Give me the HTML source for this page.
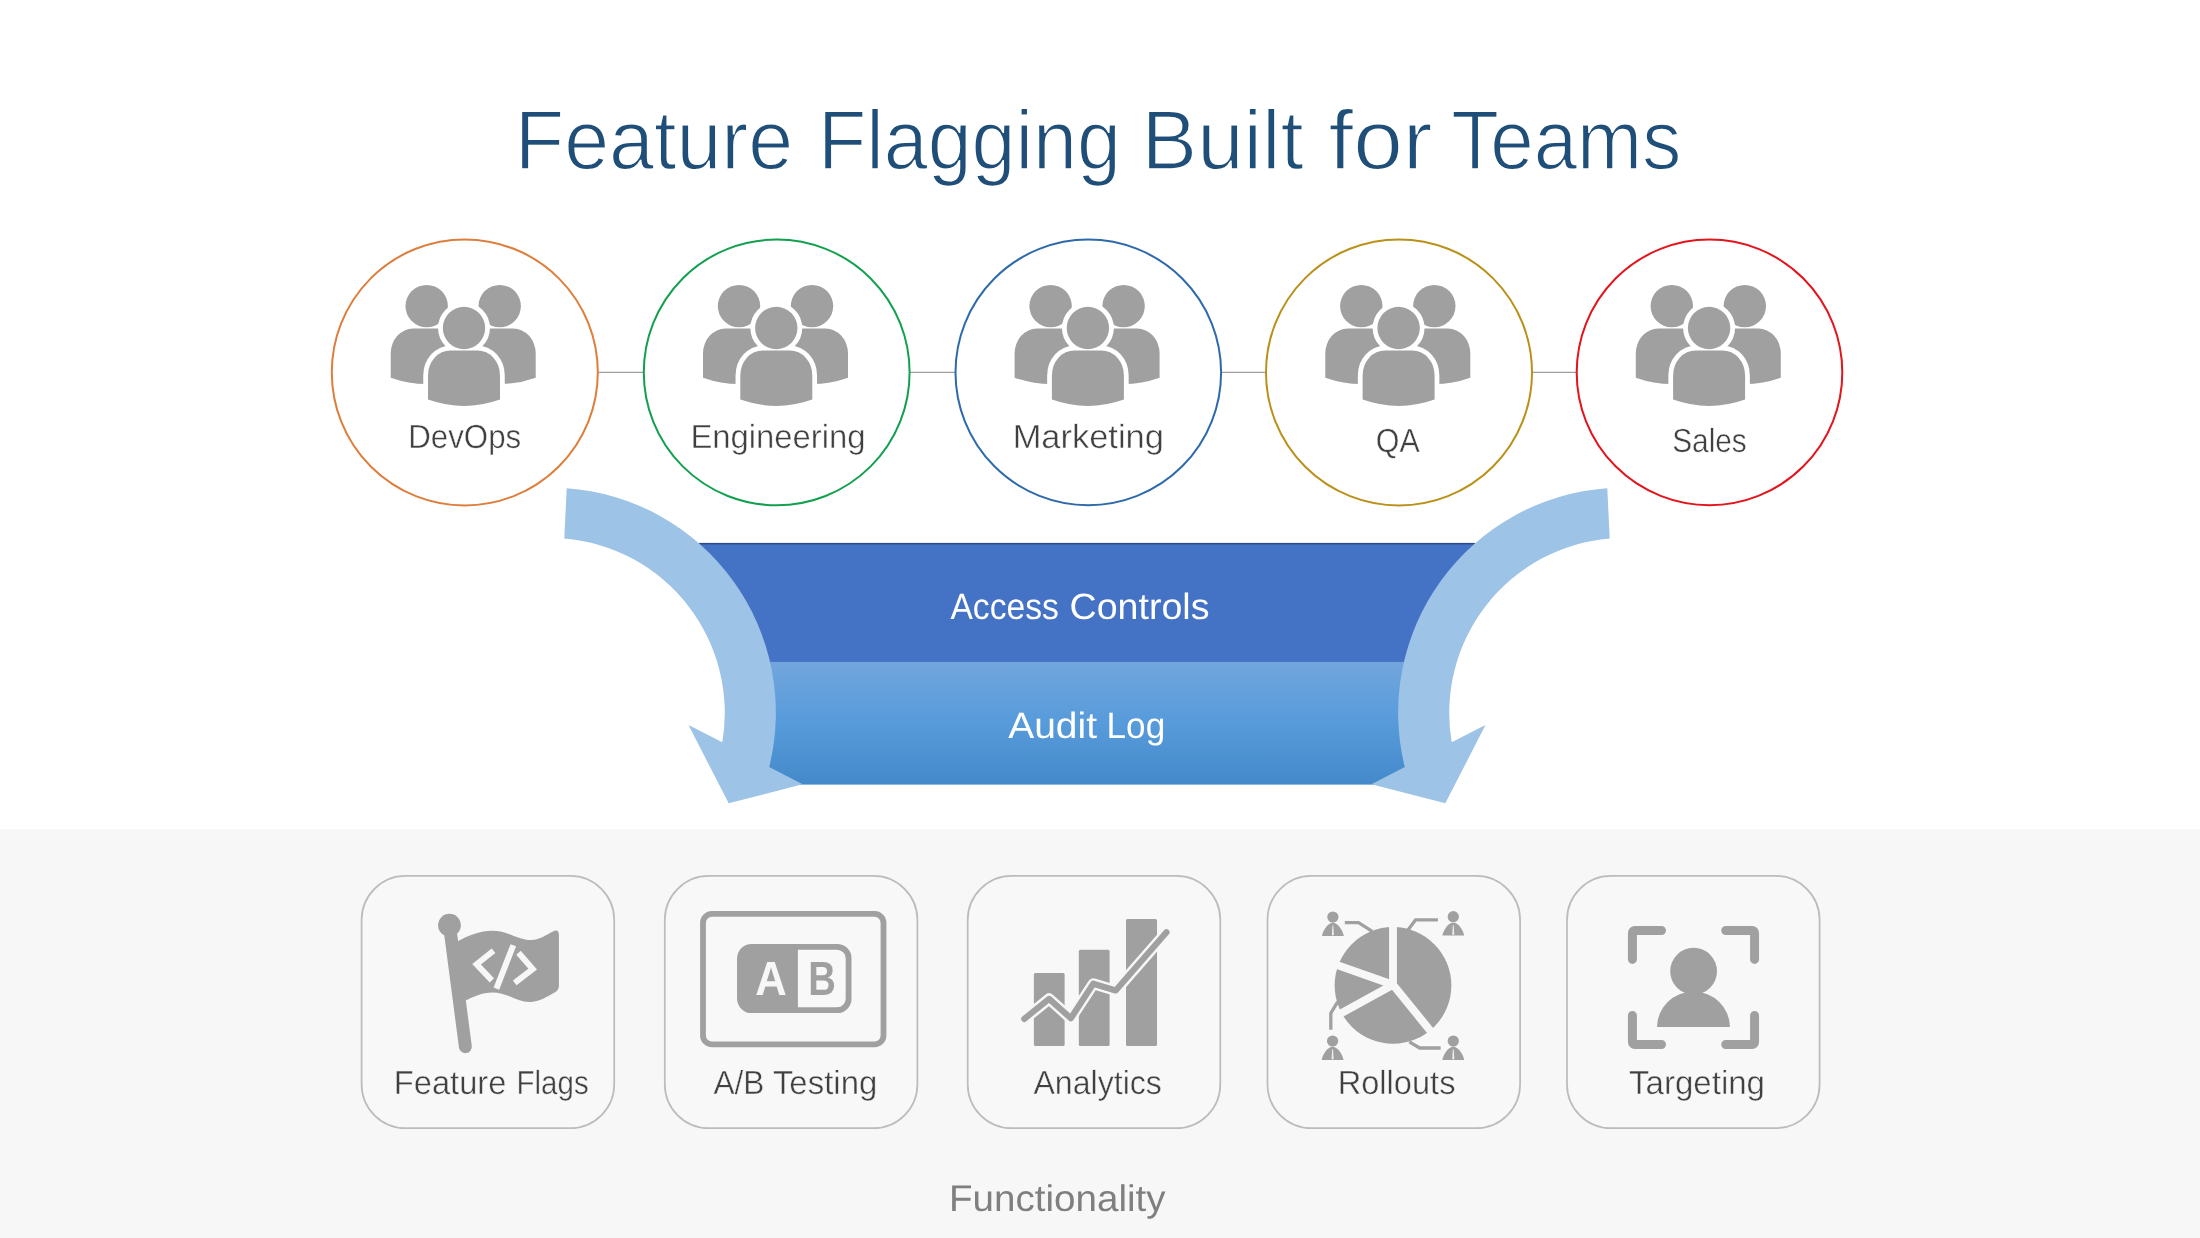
<!DOCTYPE html>
<html lang="en">
<head>
<meta charset="utf-8">
<title>Feature Flagging Built for Teams</title>
<style>
html,body{margin:0;padding:0;background:#fff;}
body{width:2200px;height:1238px;overflow:hidden;}
svg{display:block;will-change:transform;}
text{font-family:"Liberation Sans",sans-serif;text-rendering:geometricPrecision;}
.lbl{font-size:33.4px;fill:#404040;text-anchor:middle;stroke:#fff;stroke-width:.45px;}
.tl{font-size:33.3px;fill:#404040;text-anchor:middle;stroke:#f7f7f7;stroke-width:.45px;}
.wt{font-size:36.6px;fill:#fff;text-anchor:middle;}
</style>
</head>
<body>
<svg width="2200" height="1238" viewBox="0 0 2200 1238">
<defs>
<linearGradient id="ga" x1="0" y1="0" x2="0" y2="1">
<stop offset="0" stop-color="#71a6dc"/><stop offset=".5" stop-color="#579bdb"/><stop offset="1" stop-color="#4489c9"/>
</linearGradient>
<g id="person">
<circle cx="0" cy="-22.4" r="21.2"/>
<path d="M-36,49.2 V25 A22.5 25 0 0 1 -13.5,0 H13.5 A22.5 25 0 0 1 36,25 V49.2 Q0,62 -36,49.2 Z"/>
</g>
<g id="people" fill="#a0a0a0">
<use href="#person" x="-37.7" y="-43.9"/>
<use href="#person" x="35.3" y="-43.9"/>
<use href="#person" x="-0.4" y="-22" fill="#fff" stroke="#fff" stroke-width="9.5" stroke-linejoin="round"/>
<use href="#person" x="-0.4" y="-22"/>
</g>
<path id="arrowL" d="M566.7,488.2 A225 225 0 0 1 769.2,767 L802.6,784.3 L728.7,803.3 L688.5,725.1 L722.3,742.3 A175 175 0 0 0 564.3,538.5 Z"/>
</defs>

<!-- title -->
<g id="title" font-size="84" fill="#1f4e79" stroke="#fff" stroke-width="1.6">
<text id="tw1" x="514.8" y="168.6" textLength="278.4" lengthAdjust="spacingAndGlyphs">Feature</text>
<text id="tw2" x="817.9" y="168.6" textLength="303.1" lengthAdjust="spacingAndGlyphs">Flagging</text>
<text id="tw3" x="1141.5" y="168.6" textLength="162.3" lengthAdjust="spacingAndGlyphs">Built</text>
<text id="tw4" x="1328.4" y="168.6" textLength="104.2" lengthAdjust="spacingAndGlyphs">for</text>
<text id="tw5" x="1451.2" y="168.6" textLength="230.0" lengthAdjust="spacingAndGlyphs">Teams</text>
</g>

<!-- connectors -->
<path d="M598,372.4H644M910,372.4H955M1222,372.4H1266M1533,372.4H1576" stroke="#9e9e9e" stroke-width="1.3" fill="none"/>

<!-- circles -->
<g fill="#fff" stroke-width="2">
<circle cx="464.8" cy="372.4" r="133" stroke="#dd7e3c"/>
<circle cx="776.7" cy="372.4" r="132.9" stroke="#12a04f"/>
<circle cx="1088.3" cy="372.4" r="132.8" stroke="#2e6aaa"/>
<circle cx="1399" cy="372.4" r="133" stroke="#ba9018"/>
<circle cx="1709.5" cy="372.4" r="132.8" stroke="#e3141c"/>
</g>
<use href="#people" x="464.4" y="372.4"/>
<use href="#people" x="776.7" y="372.4"/>
<use href="#people" x="1088.3" y="372.4"/>
<use href="#people" x="1399" y="372.4"/>
<use href="#people" x="1709.5" y="372.4"/>
<text id="c1" class="lbl" x="464.7" y="447.5" textLength="113.0" lengthAdjust="spacingAndGlyphs">DevOps</text>
<text id="c2" class="lbl" x="778.0" y="447.5" textLength="175.2" lengthAdjust="spacingAndGlyphs">Engineering</text>
<text id="c3" class="lbl" x="1088.3" y="447.5" textLength="151.2" lengthAdjust="spacingAndGlyphs">Marketing</text>
<text id="c4" class="lbl" x="1397.8" y="451.7" textLength="44.0" lengthAdjust="spacingAndGlyphs">QA</text>
<text id="c5" class="lbl" x="1709.5" y="451.7" textLength="74.6" lengthAdjust="spacingAndGlyphs">Sales</text>

<!-- funnel -->
<polygon points="699,543 1475,543 1429,662.2 745,662.2" fill="#4472c4"/>
<rect x="699" y="542.9" width="776" height="1.5" fill="#2c4b84"/>
<rect x="760" y="661.9" width="654" height="122.7" fill="url(#ga)"/>
<text id="w1a" class="wt" x="1004.6" y="618.8" textLength="108.4" lengthAdjust="spacingAndGlyphs">Access</text>
<text id="w1b" class="wt" x="1139.5" y="618.8" textLength="140.0" lengthAdjust="spacingAndGlyphs">Controls</text>
<text id="w2a" class="wt" x="1052.6" y="737.6" textLength="88.8" lengthAdjust="spacingAndGlyphs">Audit</text>
<text id="w2b" class="wt" x="1135.9" y="737.6" textLength="58.7" lengthAdjust="spacingAndGlyphs">Log</text>
<use href="#arrowL" fill="#9dc3e6"/>
<use href="#arrowL" fill="#9dc3e6" transform="translate(2174,0) scale(-1,1)"/>

<!-- bottom band -->
<rect x="0" y="829.4" width="2200" height="409" fill="#f7f7f7"/>
<g fill="#f8f8f8" stroke="#bcbcbc" stroke-width="1.75">
<rect x="361.6" y="875.9" width="252.6" height="252.3" rx="44"/>
<rect x="664.8" y="875.9" width="252.6" height="252.3" rx="44"/>
<rect x="967.7" y="875.9" width="252.6" height="252.3" rx="44"/>
<rect x="1267.5" y="875.9" width="252.6" height="252.3" rx="44"/>
<rect x="1567" y="875.9" width="252.6" height="252.3" rx="44"/>
</g>
<text id="t1a" class="tl" x="450.1" y="1093.5" textLength="112.6" lengthAdjust="spacingAndGlyphs">Feature</text>
<text id="t1b" class="tl" x="552.6" y="1093.5" textLength="72.1" lengthAdjust="spacingAndGlyphs">Flags</text>
<text id="t2a" class="tl" x="738.9" y="1093.5" textLength="51.0" lengthAdjust="spacingAndGlyphs">A/B</text>
<text id="t2b" class="tl" x="825.1" y="1093.5" textLength="104.4" lengthAdjust="spacingAndGlyphs">Testing</text>
<text id="t3" class="tl" x="1097.7" y="1093.5" textLength="128.5" lengthAdjust="spacingAndGlyphs">Analytics</text>
<text id="t4" class="tl" x="1396.6" y="1093.5" textLength="117.8" lengthAdjust="spacingAndGlyphs">Rollouts</text>
<text id="t5" class="tl" x="1697.0" y="1093.5" textLength="136.0" lengthAdjust="spacingAndGlyphs">Targeting</text>
<text id="fn" x="1057.3" y="1210.5" font-size="37" fill="#7f7f7f" text-anchor="middle" textLength="216.5" lengthAdjust="spacingAndGlyphs">Functionality</text>

<!-- ICONS -->
<!-- feature flag -->
<g transform="translate(420,900) scale(0.12924)" fill="#a0a0a0">
<path d="M288,322 C380,270 470,238 560,238 C680,238 760,310 860,310 C920,310 975,272 1025,246 Q1075,218 1075,275 L1075,660 Q1075,698 1045,714 C990,745 920,790 850,790 C750,790 670,715 560,715 C480,715 410,750 352,778 Z"/>
<circle cx="228" cy="195" r="88"/>
<path d="M228,195 L351,1135" stroke="#a0a0a0" stroke-width="100" stroke-linecap="round" fill="none"/>
<g fill="none" stroke="#f7f7f7" stroke-width="46">
<path d="M569,393 L438,497 L556,622"/>
<path d="M722,350 L591,686"/>
<path d="M762,408 L872,535 L733,641"/>
</g>
</g>
<!-- a/b testing -->
<g fill="none" stroke="#a0a0a0" stroke-width="5.8">
<rect x="703" y="913.9" width="180.5" height="130.5" rx="9"/>
<rect x="740.1" y="946.8" width="108.5" height="63.4" rx="11.5"/>
</g>
<path d="M797.9,946 H751.5 A14.3 14.3 0 0 0 737.2,960.3 V996.8 A14.3 14.3 0 0 0 751.5,1011.1 H797.9 Z" fill="#a0a0a0"/>
<text id="abA" x="770.9" y="995.4" font-size="48" font-weight="bold" fill="#f7f7f7" text-anchor="middle" textLength="31.5" lengthAdjust="spacingAndGlyphs">A</text>
<text id="abB" x="822.1" y="995.4" font-size="48" font-weight="bold" fill="#a0a0a0" text-anchor="middle" textLength="27.6" lengthAdjust="spacingAndGlyphs">B</text>
<!-- analytics -->
<g transform="translate(1000,900) scale(0.12925)">
<g fill="#a0a0a0"><rect x="262" y="565" width="238" height="565" rx="12"/><rect x="610" y="385" width="238" height="745" rx="12"/><rect x="975" y="147" width="240" height="983" rx="12"/></g>
<path id="trend" d="M188,920 L380,765 L548,915 L722,648 L895,700 L1288,250" fill="none" stroke="#f7f7f7" stroke-width="86" stroke-linecap="round" stroke-linejoin="round"/>
<path d="M188,920 L380,765 L548,915 L722,648 L895,700 L1288,250" fill="none" stroke="#a0a0a0" stroke-width="48" stroke-linecap="round" stroke-linejoin="round"/>
</g>
<!-- rollouts -->
<g transform="translate(1305,900) scale(0.1373)">
<circle cx="641" cy="622" r="425" fill="#a0a0a0"/>
<clipPath id="pieclip"><circle cx="641" cy="622" r="432"/></clipPath>
<g fill="none" stroke="#f7f7f7" stroke-width="57" clip-path="url(#pieclip)">
<path d="M641,150 V617"/><path d="M641,617 L960,1010"/><path d="M641,617 L180,455"/><path d="M641,617 L190,865"/>
</g>
<g fill="none" stroke="#a0a0a0" stroke-width="24">
<path d="M290,165 H390 L490,228"/><path d="M968,145 H805 L750,218"/><path d="M188,945 V825 L238,742"/><path d="M988,1078 H835 L760,1033"/>
</g>
<g id="bizman" fill="#a0a0a0">
<circle cx="203" cy="124.5" r="41"/>
<path d="M123,261.5 C135,215 160,180 192,168 L214,168 C246,180 271,215 283,261.5 Z"/>
<path d="M200,186 L206,186 L210.5,256 L195.5,256 Z" fill="#f0f0f0"/>
</g>
<use href="#bizman" x="877" y="-3"/>
<use href="#bizman" x="-2" y="903"/>
<use href="#bizman" x="877" y="903"/>
</g>
<!-- targeting -->
<g transform="translate(1610,910) scale(0.12117)">
<g fill="none" stroke="#a0a0a0" stroke-width="74" stroke-linecap="round" stroke-linejoin="round">
<path d="M425,169 H205 A20 20 0 0 0 185,189 V408"/><path d="M955,169 H1173 A20 20 0 0 1 1193,189 V408"/><path d="M185,870 V1090 A20 20 0 0 0 205,1110 H425"/><path d="M1193,870 V1090 A20 20 0 0 1 1173,1110 H955"/>
</g>
<g fill="#a0a0a0"><circle cx="690" cy="505" r="193"/><path d="M388,965 A301 292 0 0 1 990,965 Z"/></g>
</g>
</svg>
</body>
</html>
